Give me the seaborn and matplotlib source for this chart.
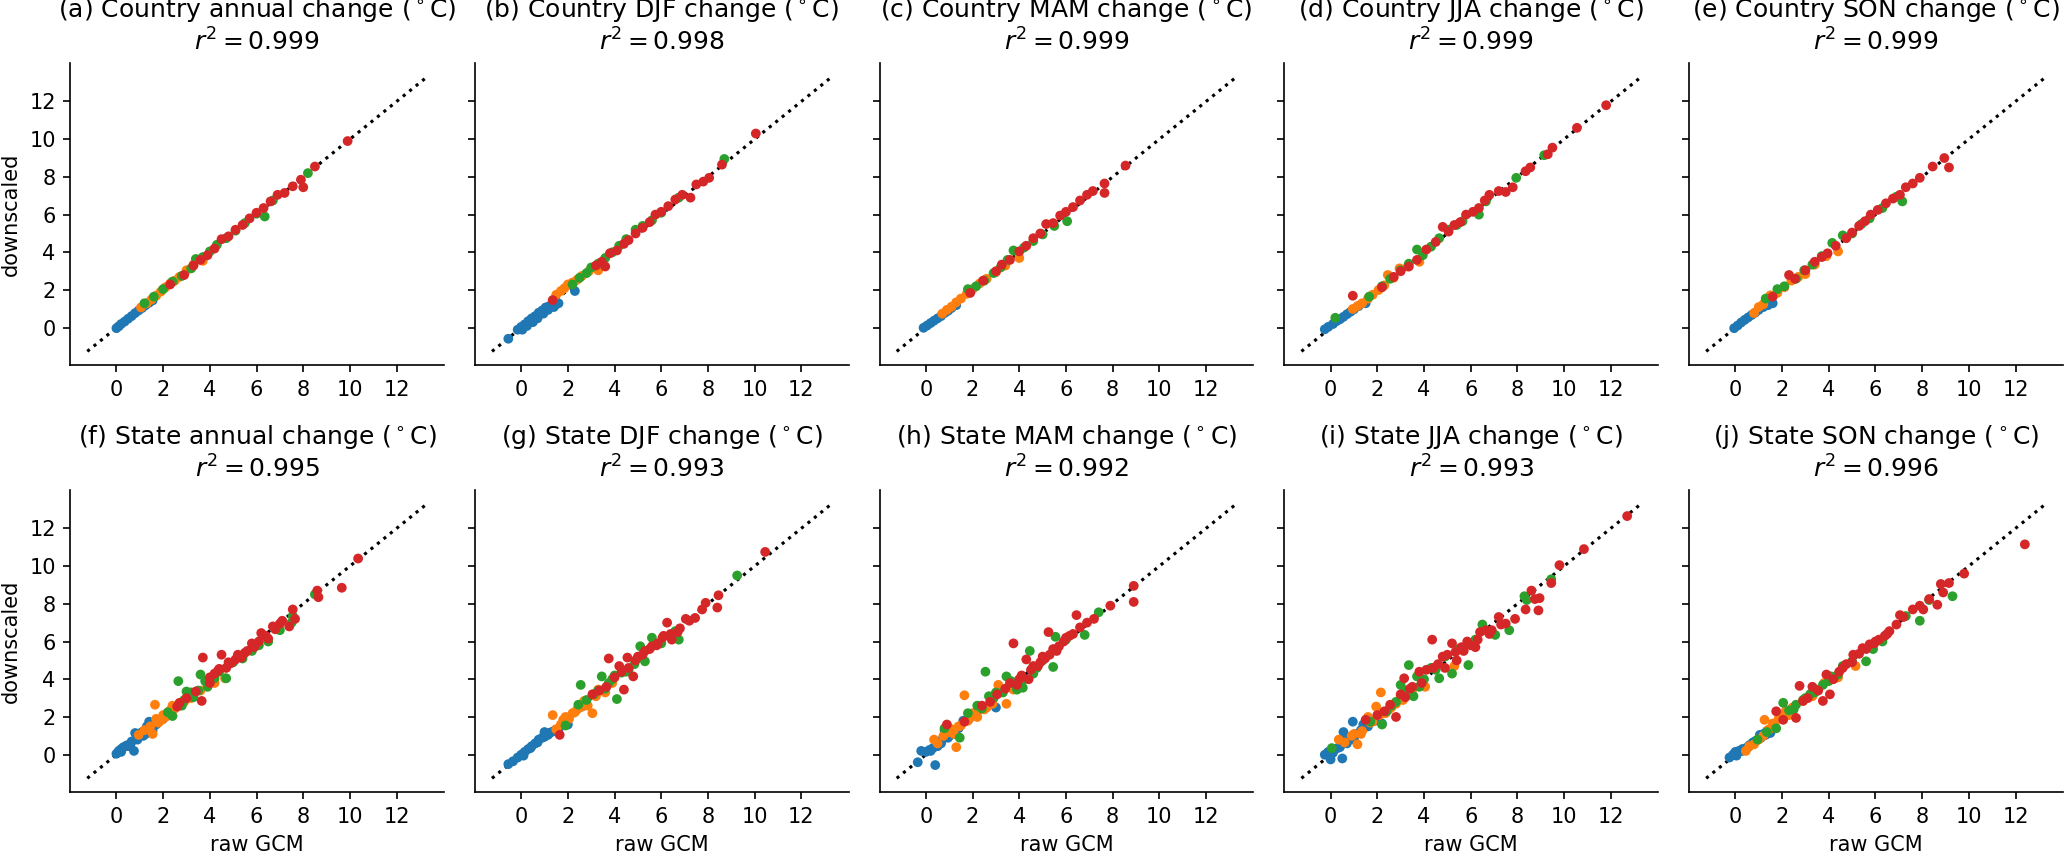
import matplotlib
matplotlib.use("Agg")
import matplotlib.pyplot as plt
import pandas as pd
import seaborn as sns

# four scenario groups, plotted in this order (last one on top)
groups = ["scen1", "scen2", "scen3", "scen4"]
palette = ["#1f77b4", "#ff7f0e", "#2ca02c", "#d62728"]

titles = [
    "(a) Country annual change ($^\\circ$C)",
    "(b) Country DJF change ($^\\circ$C)",
    "(c) Country MAM change ($^\\circ$C)",
    "(d) Country JJA change ($^\\circ$C)",
    "(e) Country SON change ($^\\circ$C)",
    "(f) State annual change ($^\\circ$C)",
    "(g) State DJF change ($^\\circ$C)",
    "(h) State MAM change ($^\\circ$C)",
    "(i) State JJA change ($^\\circ$C)",
    "(j) State SON change ($^\\circ$C)",
]
r2_values = ["0.999", "0.998", "0.999", "0.999", "0.999",
             "0.995", "0.993", "0.992", "0.993", "0.996"]

ticks = [0, 2, 4, 6, 8, 10, 12]
one_to_one = [-1.25, 13.3]

# ---- (a) country annual: raw GCM / downscaled, one list per group
a_raw = [
    [0.0, 0.1, 0.2, 0.35, 0.5, 0.65, 0.8, 0.95, 1.1, 1.25, 1.4, 1.55],
    [1.05, 1.3, 1.5, 1.7, 1.9, 2.1, 2.3, 2.5, 2.7, 3.0, 3.3, 3.7],
    [1.2, 1.6, 2.0, 2.4, 2.8, 3.2, 3.4, 3.7, 4.0, 4.3, 4.7, 5.1, 5.5, 6.0, 6.35, 6.7, 8.2],
    [2.3, 2.9, 3.3, 3.6, 3.9, 4.2, 4.5, 4.8, 5.1, 5.4, 5.7, 6.0, 6.3, 6.6, 6.9, 7.2, 7.55, 7.9, 8.0, 8.5, 9.9],
]
a_down = [
    [-0.02, 0.08, 0.2, 0.33, 0.48, 0.62, 0.78, 0.92, 1.05, 1.2, 1.33, 1.45],
    [1.08, 1.3, 1.5, 1.7, 1.92, 2.15, 2.35, 2.5, 2.7, 3.05, 3.35, 3.55],
    [1.3, 1.65, 2.05, 2.45, 2.75, 3.15, 3.65, 3.75, 4.05, 4.4, 4.75, 5.15, 5.55, 6.05, 5.9, 6.75, 8.2],
    [2.3, 2.8, 3.3, 3.6, 3.85, 4.2, 4.7, 4.85, 5.2, 5.45, 5.8, 6.1, 6.35, 6.7, 7.05, 7.15, 7.5, 7.85, 7.45, 8.55, 9.9],
]

# ---- (b) country DJF
b_raw = [
    [-0.55, -0.15, 0.0, 0.15, 0.3, 0.45, 0.6, 0.75, 0.9, 1.05, 1.2, 1.35, 1.5, 2.3,
     0.05, 0.25, 0.5, 0.7, 0.95, 1.15, 1.4, 1.6],
    [1.5, 1.7, 1.85, 2.0, 2.2, 2.4, 2.6, 2.9, 3.3],
    [2.2, 2.5, 2.8, 3.0, 3.3, 3.6, 3.9, 4.2, 4.5, 4.9, 5.2, 5.6, 6.0, 6.75, 8.7],
    [1.35, 3.2, 3.45, 3.6, 3.8, 4.1, 4.4, 4.6, 4.9, 5.2, 5.5, 5.75, 6.0, 6.3, 6.6, 6.9, 7.25, 7.5, 7.8, 8.05, 8.6, 10.05],
]
b_down = [
    [-0.58, -0.1, 0.05, 0.18, 0.35, 0.5, 0.62, 0.8, 0.92, 1.08, 1.15, 1.22, 1.25, 1.95,
     -0.1, 0.1, 0.3, 0.5, 0.75, 0.95, 1.1, 1.3],
    [1.75, 1.95, 2.1, 2.3, 2.4, 2.55, 2.75, 3.0, 3.05],
    [2.3, 2.65, 2.9, 3.2, 3.4, 3.7, 4.0, 4.35, 4.7, 5.2, 5.4, 5.7, 6.1, 6.9, 8.95],
    [1.47, 3.3, 3.5, 3.25, 3.95, 4.1, 4.45, 4.65, 5.0, 5.3, 5.6, 6.0, 6.15, 6.45, 6.8, 7.05, 6.9, 7.6, 7.75, 7.95, 8.65, 10.3],
]

# ---- (c) country MAM
c_raw = [
    [-0.1, 0.05, 0.2, 0.35, 0.5, 0.65, 0.8, 0.95, 1.1, 1.3],
    [0.7, 0.9, 1.1, 1.3, 1.5, 1.75, 2.0, 2.3, 2.6, 3.0, 3.4, 4.0],
    [1.8, 2.15, 2.5, 2.9, 3.2, 3.5, 3.75, 4.2, 4.6, 5.0, 5.5, 6.05],
    [1.9, 2.45, 3.0, 3.25, 3.6, 4.0, 4.3, 4.6, 4.9, 5.15, 5.45, 5.75, 6.0, 6.3, 6.6, 6.9, 7.15, 7.65, 7.65, 8.55],
]
c_down = [
    [0.0, 0.12, 0.25, 0.38, 0.5, 0.62, 0.78, 0.9, 1.05, 1.2],
    [0.75, 0.95, 1.12, 1.35, 1.55, 1.8, 2.05, 2.35, 2.6, 2.95, 3.3, 3.7],
    [2.05, 2.2, 2.5, 2.9, 3.2, 3.6, 4.1, 4.25, 4.6, 4.95, 5.4, 5.65],
    [1.85, 2.5, 3.0, 3.35, 3.6, 4.05, 4.35, 4.75, 5.0, 5.5, 5.55, 5.95, 6.15, 6.4, 6.75, 7.05, 7.25, 7.65, 7.15, 8.6],
]

# ---- (d) country JJA
d_raw = [
    [-0.25, -0.1, 0.1, 0.25, 0.4, 0.55, 0.7, 0.85, 1.0, 1.2, 1.5],
    [0.95, 1.15, 1.35, 1.6, 1.8, 2.05, 2.3, 2.45, 2.7, 2.95, 3.3, 3.8],
    [0.2, 1.65, 2.2, 2.55, 3.0, 3.35, 3.7, 3.95, 4.3, 4.65, 5.05, 5.4, 5.65, 6.35, 6.65, 7.95, 9.15],
    [0.95, 2.2, 2.7, 3.0, 3.35, 3.7, 4.1, 4.5, 4.8, 5.05, 5.3, 5.55, 5.8, 6.1, 6.35, 6.6, 6.8, 7.2, 7.5, 7.8,
     8.35, 8.55, 9.3, 9.5, 10.55, 11.8],
]
d_down = [
    [-0.08, 0.05, 0.2, 0.35, 0.45, 0.58, 0.72, 0.85, 0.98, 1.15, 1.3],
    [1.0, 1.15, 1.3, 1.55, 1.75, 2.0, 2.25, 2.8, 2.65, 3.15, 3.25, 3.5],
    [0.53, 1.65, 2.2, 2.6, 3.05, 3.4, 4.15, 3.85, 4.3, 4.75, 5.2, 5.45, 5.65, 6.0, 6.7, 7.95, 9.15],
    [1.7, 2.15, 2.7, 3.0, 3.25, 3.6, 4.15, 4.55, 5.35, 5.1, 5.45, 5.6, 6.0, 6.15, 6.35, 6.75, 7.05, 7.25, 7.2, 7.45,
     8.3, 8.5, 9.2, 9.55, 10.6, 11.8],
]

# ---- (e) country SON
e_raw = [
    [-0.05, 0.1, 0.25, 0.4, 0.55, 0.7, 0.85, 1.0, 1.2, 1.4, 1.6],
    [0.8, 1.0, 1.2, 1.5, 1.8, 2.1, 2.4, 2.7, 3.0, 3.4, 3.9, 4.4],
    [1.3, 1.8, 2.1, 2.6, 2.95, 3.3, 3.7, 4.15, 4.6, 5.0, 5.4, 5.75, 6.3, 6.9, 7.15],
    [1.6, 2.3, 2.55, 3.0, 3.4, 3.7, 3.95, 4.3, 4.75, 5.0, 5.3, 5.55, 5.8, 6.1, 6.45, 6.75, 7.05, 7.3, 7.6, 7.9,
     8.45, 8.95, 9.15],
]
e_down = [
    [-0.02, 0.12, 0.28, 0.42, 0.55, 0.68, 0.8, 0.95, 1.1, 1.2, 1.3],
    [0.78, 1.1, 1.25, 1.72, 1.85, 2.15, 2.5, 2.7, 2.85, 3.35, 3.8, 4.05],
    [1.55, 2.05, 2.2, 2.6, 3.05, 3.35, 3.8, 4.5, 4.9, 5.0, 5.5, 5.8, 6.35, 6.95, 6.7],
    [1.65, 2.8, 2.6, 3.05, 3.5, 3.75, 3.95, 4.35, 4.75, 5.05, 5.4, 5.65, 6.0, 6.25, 6.6, 6.85, 7.05, 7.45, 7.65, 7.95,
     8.55, 9.0, 8.5],
]

# ---- (f) state annual
f_raw = [
    [0.0, 0.1, 0.2, 0.3, 0.45, 0.55, 0.65, 0.75, 0.8, 0.9, 1.0, 1.15, 1.3, 1.4, 1.55, 1.7, 2.0,
     0.2, 0.4, 0.6, 0.9, 1.1, 1.25],
    [0.95, 1.2, 1.45, 1.55, 1.65, 1.8, 1.95, 2.1, 2.3, 2.5, 2.7, 2.9, 3.2, 3.6, 4.2, 4.65,
     1.7, 2.0, 2.2, 2.4],
    [2.2, 2.4, 2.65, 2.8, 3.0, 3.3, 3.6, 3.9, 4.2, 4.7, 5.0, 5.4, 5.8, 6.1, 6.5, 7.0, 7.5, 7.55, 8.5,
     2.9, 3.2, 3.5, 3.8, 4.4],
    [2.6, 2.7, 3.0, 3.4, 3.65, 3.7, 4.0, 4.2, 4.35, 4.5, 4.7, 4.9, 5.1, 5.35, 5.6, 5.9, 6.2, 6.5, 6.8, 7.1,
     7.4, 7.65, 7.55, 8.6, 8.65, 9.65, 10.35,
     4.0, 4.4, 4.8, 5.2, 5.5, 5.8, 6.1, 6.4, 6.7, 7.0],
]
f_down = [
    [0.05, 0.2, 0.3, 0.4, 0.5, 0.45, 0.7, 0.2, 1.15, 0.9, 1.05, 1.0, 1.5, 1.75, 1.3, 1.6, 1.9,
     0.15, 0.45, 0.55, 0.8, 1.2, 1.1],
    [1.05, 1.3, 1.5, 1.1, 2.65, 1.7, 1.85, 2.0, 2.35, 2.45, 2.7, 2.8, 3.0, 3.4, 3.8, 4.05,
     1.9, 2.1, 2.2, 2.6],
    [2.25, 2.05, 3.9, 2.6, 3.35, 3.05, 4.25, 3.6, 4.05, 4.05, 4.9, 5.1, 5.5, 5.8, 6.0, 6.6, 7.0, 7.35, 8.5,
     2.9, 3.3, 3.4, 3.9, 4.4],
    [2.55, 2.75, 3.0, 3.35, 2.85, 5.15, 3.8, 4.3, 4.45, 5.3, 4.6, 4.85, 5.05, 5.15, 5.5, 5.7, 6.45, 6.15, 6.65, 7.1,
     6.8, 7.2, 7.7, 8.7, 8.35, 8.85, 10.4,
     4.1, 4.55, 4.9, 5.3, 5.4, 5.9, 6.0, 6.3, 6.8, 6.95],
]

# ---- (g) state DJF
g_raw = [
    [-0.55, -0.35, -0.15, 0.0, 0.15, 0.3, 0.45, 0.6, 0.75, 0.9, 1.0, 1.15, 1.3, 1.45, 1.6, 2.0, 2.6,
     0.1, 0.4, 0.7, 1.0, 1.2],
    [1.35, 1.5, 1.7, 1.9, 2.05, 2.2, 2.4, 2.6, 2.85, 3.05, 3.3, 3.6, 3.9,
     1.8, 2.3, 2.7, 3.2],
    [1.9, 2.45, 2.55, 2.8, 3.1, 3.45, 3.75, 4.1, 4.3, 4.6, 4.85, 5.1, 5.3, 5.6, 6.0, 6.6, 6.75, 9.25,
     3.3, 3.6, 3.9, 4.0, 4.5],
    [1.65, 3.05, 3.35, 3.65, 3.75, 4.0, 4.2, 4.4, 4.55, 4.8, 5.0, 5.3, 5.6, 5.85, 6.05, 6.25, 6.45, 6.7, 7.05,
     7.45, 7.75, 7.9, 8.4, 8.45, 10.45,
     4.3, 4.6, 4.9, 5.2, 5.5, 5.8, 6.1, 6.4, 6.8, 7.2],
]
g_down = [
    [-0.5, -0.35, -0.15, 0.0, 0.15, 0.3, 0.45, 0.6, 0.8, 0.9, 1.2, 1.05, 1.2, 1.3, 1.35, 1.6, 2.55,
     -0.05, 0.35, 0.65, 0.95, 1.15],
    [2.1, 1.35, 1.6, 2.0, 1.9, 2.2, 2.4, 2.55, 2.6, 2.2, 3.45, 3.3, 3.8,
     1.85, 2.25, 2.85, 3.1],
    [1.55, 2.65, 3.7, 2.9, 3.2, 4.15, 3.8, 2.95, 4.35, 4.5, 4.8, 5.75, 4.95, 6.2, 5.9, 6.55, 6.1, 9.5,
     3.4, 3.5, 4.0, 4.2, 4.4],
    [1.05, 3.2, 3.4, 3.6, 5.1, 4.1, 4.7, 3.45, 5.15, 4.15, 5.2, 5.5, 5.75, 5.9, 6.2, 7.0, 6.1, 6.5, 7.2,
     7.25, 7.7, 8.05, 7.8, 8.45, 10.75,
     4.4, 4.6, 5.0, 5.3, 5.6, 5.8, 6.3, 6.4, 6.7, 7.1],
]

# ---- (h) state MAM
h_raw = [
    [-0.35, -0.2, 0.0, 0.15, 0.3, 0.4, 0.5, 0.65, 0.8, 0.95, 1.1, 1.25, 1.4, 1.6, 1.85, 2.2, 3.0,
     0.2, 0.5, 0.7, 1.0],
    [0.35, 0.5, 0.75, 1.0, 1.1, 1.3, 1.5, 1.65, 1.8, 2.0, 2.3, 2.6, 2.85, 3.1, 3.45, 3.75,
     1.2, 1.4, 1.9, 2.2, 2.5],
    [0.8, 1.45, 1.8, 2.2, 2.55, 2.7, 3.0, 3.45, 3.65, 3.9, 4.15, 4.45, 4.75, 5.0, 5.45, 5.55, 6.0, 6.8, 7.4,
     2.4, 2.9, 3.3, 3.8, 4.2, 4.6],
    [0.9, 1.65, 2.4, 2.75, 3.05, 3.4, 3.75, 3.9, 4.1, 4.3, 4.4, 4.6, 4.9, 5.1, 5.25, 5.45, 5.7, 5.9, 6.15,
     6.45, 6.6, 6.9, 7.2, 7.9, 8.9, 8.9,
     3.6, 4.0, 4.5, 4.8, 5.0, 5.3, 5.6, 6.0, 6.3],
]
h_down = [
    [-0.4, 0.2, 0.15, 0.25, 0.35, -0.55, 0.5, 0.6, 1.3, 0.9, 1.2, 1.1, 1.4, 1.8, 1.9, 2.3, 2.5,
     0.2, 0.45, 0.8, 1.0],
    [0.8, 0.6, 1.0, 1.2, 1.35, 0.4, 1.55, 3.15, 1.8, 2.2, 2.45, 2.5, 2.7, 3.7, 2.7, 3.45,
     1.1, 1.5, 2.0, 2.0, 2.4],
    [1.4, 0.9, 2.2, 2.6, 4.4, 3.1, 3.3, 4.15, 3.9, 3.45, 3.55, 5.5, 4.6, 5.0, 4.65, 6.25, 6.1, 6.35, 7.55,
     2.45, 3.0, 3.3, 3.75, 4.0, 4.3],
    [1.6, 1.75, 2.6, 2.8, 3.2, 3.5, 5.9, 3.7, 4.2, 5.05, 4.0, 4.7, 4.9, 5.1, 6.5, 5.6, 5.75, 6.0, 6.3,
     7.4, 6.75, 7.0, 7.2, 7.9, 8.95, 8.1,
     3.8, 4.0, 4.5, 4.7, 5.2, 5.3, 5.5, 6.2, 6.4],
]

# ---- (i) state JJA
i_raw = [
    [-0.25, -0.1, 0.0, 0.15, 0.3, 0.5, 0.55, 0.7, 0.8, 0.95, 1.1, 1.3, 1.6, 1.9, 2.2,
     0.1, 0.4, 0.6, 1.0, 1.4],
    [0.35, 0.6, 0.9, 1.15, 1.35, 1.6, 1.8, 1.95, 2.15, 2.35, 2.5, 2.8, 3.1, 3.5, 4.05, 5.3,
     1.0, 1.3, 1.7, 2.1, 2.6, 3.0],
    [0.05, 1.7, 2.2, 2.6, 3.0, 3.35, 3.55, 3.7, 4.0, 4.3, 4.65, 4.9, 5.2, 5.5, 5.9, 6.2, 6.5, 7.05, 7.65,
     8.3, 8.4, 9.45,
     2.4, 2.8, 3.2, 3.8, 4.5],
    [1.5, 2.0, 2.3, 2.55, 2.8, 3.15, 3.2, 3.5, 3.8, 4.1, 4.35, 4.6, 4.8, 5.0, 5.2, 5.35, 5.6, 5.85, 6.2, 6.4,
     6.65, 6.9, 7.2, 7.5, 7.9, 8.35, 8.6, 8.75, 8.9, 8.95, 9.45, 9.8, 10.85, 12.7,
     3.0, 3.4, 3.9, 4.4, 4.9, 5.4, 5.7, 6.0, 6.3, 6.8, 7.3],
]
i_down = [
    [0.0, 0.15, -0.25, 0.25, 0.35, -0.2, 1.2, 0.6, 0.9, 1.75, 1.1, 1.3, 1.5, 1.8, 1.65,
     0.1, 0.4, 0.8, 0.8, 1.6],
    [0.8, 0.65, 1.0, 0.55, 1.25, 2.0, 1.75, 2.55, 3.3, 2.2, 2.4, 2.7, 2.9, 3.45, 3.6, 4.7,
     1.1, 1.1, 1.7, 2.1, 2.5, 3.1],
    [0.35, 1.75, 1.6, 2.6, 3.7, 4.75, 3.1, 4.15, 4.0, 4.6, 4.05, 5.2, 4.3, 5.6, 4.75, 6.1, 6.9, 6.35, 6.6,
     8.4, 8.2, 9.3,
     2.3, 2.8, 3.4, 3.6, 4.5],
    [1.85, 2.1, 2.3, 2.65, 2.0, 4.05, 3.05, 3.6, 4.4, 4.5, 6.1, 4.8, 5.2, 5.3, 5.9, 5.45, 5.7, 6.0, 5.7, 6.5,
     6.6, 6.6, 7.3, 6.95, 7.2, 7.7, 8.7, 8.25, 7.65, 8.3, 9.1, 10.05, 10.9, 12.65,
     3.2, 3.5, 3.8, 4.6, 4.6, 5.0, 5.5, 5.8, 6.1, 6.4, 6.9],
]

# ---- (j) state SON
j_raw = [
    [-0.25, -0.1, 0.0, 0.15, 0.3, 0.45, 0.6, 0.75, 0.9, 1.05, 1.2, 1.35, 1.5,
     0.05, 0.3, 0.55, 0.85, 1.1, 1.3],
    [0.45, 0.6, 0.8, 1.0, 1.25, 1.45, 1.6, 1.85, 2.15, 2.45, 2.9, 3.3, 3.8, 4.4, 5.15,
     1.2, 1.4, 1.7, 2.0, 2.3],
    [0.95, 1.35, 1.75, 2.05, 2.3, 2.6, 2.9, 3.2, 3.5, 3.75, 4.1, 4.4, 4.6, 5.0, 5.6, 5.9, 6.3, 7.3, 7.9,
     8.3, 9.3,
     2.5, 3.0, 3.4, 4.0],
    [1.75, 2.05, 2.6, 2.75, 2.9, 3.1, 3.3, 3.55, 3.75, 3.9, 4.05, 4.45, 4.75, 5.05, 5.3, 5.45, 5.75, 5.95,
     6.15, 6.4, 6.6, 6.9, 7.05, 7.6, 8.05, 8.3, 8.65, 8.9, 8.8, 9.15, 9.8, 12.4,
     4.2, 4.6, 5.0, 5.6, 6.0, 6.5, 7.2, 7.9],
]
j_down = [
    [-0.15, 0.0, 0.15, 0.2, 0.3, 0.35, 0.5, 0.65, 0.75, 1.05, 1.1, 1.25, 1.15,
     -0.05, 0.2, 0.4, 0.7, 0.9, 1.05],
    [0.2, 0.45, 0.55, 0.8, 1.85, 1.35, 1.65, 1.9, 2.3, 2.5, 2.85, 3.1, 3.8, 4.1, 4.7,
     1.0, 1.3, 1.5, 2.0, 2.1],
    [0.8, 1.2, 1.4, 2.75, 2.35, 2.65, 2.9, 3.2, 3.45, 3.7, 4.15, 4.25, 4.7, 4.95, 4.95, 5.6, 6.0, 7.35, 7.1,
     8.2, 8.4,
     2.4, 3.0, 3.3, 3.9],
    [2.3, 1.85, 1.95, 3.65, 2.85, 3.0, 3.6, 3.4, 2.85, 4.25, 3.2, 4.4, 4.8, 5.3, 5.35, 5.65, 5.85, 5.9,
     6.1, 6.3, 6.55, 6.9, 7.4, 7.7, 7.7, 8.25, 7.95, 8.6, 9.05, 9.1, 9.6, 11.15,
     4.0, 4.6, 4.9, 5.6, 6.0, 6.4, 7.3, 7.9],
]

panels = [(a_raw, a_down), (b_raw, b_down), (c_raw, c_down), (d_raw, d_down), (e_raw, e_down),
          (f_raw, f_down), (g_raw, g_down), (h_raw, h_down), (i_raw, i_down), (j_raw, j_down)]

# style: white, ticks, black text
sns.set_style("ticks", {"axes.edgecolor": "black", "text.color": "black",
                        "axes.labelcolor": "black", "xtick.color": "black",
                        "ytick.color": "black"})
plt.rcParams["font.family"] = ["DejaVu Sans"]

fig, axes = plt.subplots(2, 5, figsize=(2067 / 150, 854 / 150), dpi=150, sharey=True)
fig.subplots_adjust(left=0.034, right=0.998, bottom=0.0726, top=0.926,
                    wspace=0.083, hspace=0.414)

for ax, title, r2, (raw, down) in zip(axes.flat, titles, r2_values, panels):
    rows = []
    for grp, xs, ys in zip(groups, raw, down):
        rows += [(grp, x, y) for x, y in zip(xs, ys)]
    df = pd.DataFrame(rows, columns=["group", "raw", "down"])

    # 1:1 reference line underneath the points
    ax.plot(one_to_one, one_to_one, "k:", lw=1.5, zorder=0.5)
    sns.scatterplot(data=df, x="raw", y="down", hue="group", hue_order=groups,
                    palette=palette, s=22, linewidth=0, legend=False, ax=ax)

    ax.set_xticks(ticks)
    ax.set_yticks(ticks)
    ax.set_title(f"{title}\n$r^2 = {r2}$", fontsize=12)
    ax.set_xlabel("")
    ax.set_ylabel("")

for ax in axes[1]:
    ax.set_xlabel("raw GCM")
for ax in axes[:, 0]:
    ax.set_ylabel("downscaled")

sns.despine(fig)
fig.savefig("out.png", dpi=150)
